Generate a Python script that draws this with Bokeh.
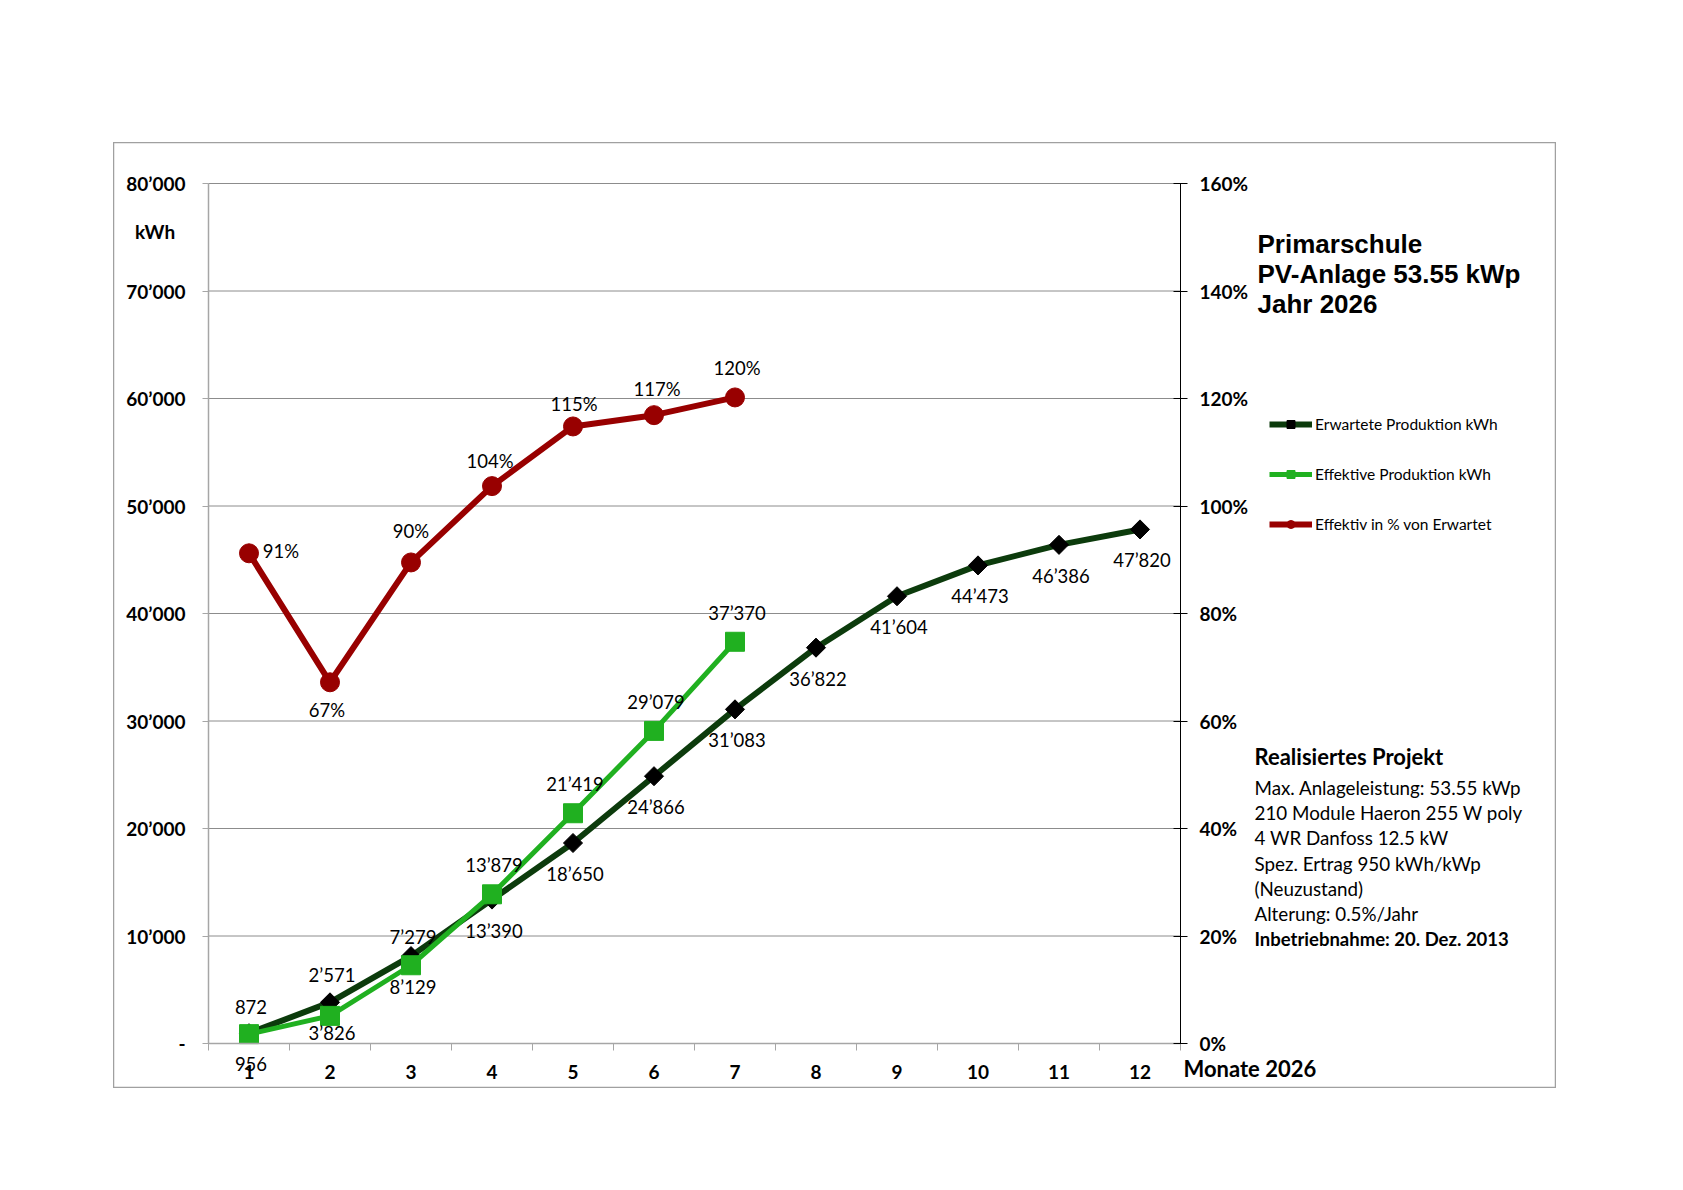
import math
from bokeh.plotting import figure
from bokeh.models import (Range1d, LinearAxis, FixedTicker, ColumnDataSource,
                          LabelSet, Label, Legend, LegendItem)
from bokeh.embed import file_html
from bokeh.resources import INLINE
from bokeh.core.properties import value

# ---------------- data ----------------
months = [1, 2, 3, 4, 5, 6, 7, 8, 9, 10, 11, 12]
month_labels = ["1", "2", "3", "4", "5", "6", "7", "8", "9", "10", "11", "12"]
expected = [956, 3826, 8129, 13390, 18650, 24866, 31083, 36822, 41604, 44473, 46386, 47820]
expected_labels = ["956", "3’826", "8’129", "13’390", "18’650", "24’866", "31’083",
                   "36’822", "41’604", "44’473", "46’386", "47’820"]
eff_months = [1, 2, 3, 4, 5, 6, 7]
effective = [872, 2571, 7279, 13879, 21419, 29079, 37370]
effective_labels = ["872", "2’571", "7’279", "13’879", "21’419", "29’079", "37’370"]
pct = [91.2, 67.2, 89.5, 103.7, 114.8, 116.9, 120.2]
pct_labels = ["91%", "67%", "90%", "104%", "115%", "117%", "120%"]

y_ticks = [0, 10000, 20000, 30000, 40000, 50000, 60000, 70000, 80000]
y_tick_labels = ["-", "10’000", "20’000", "30’000", "40’000", "50’000", "60’000", "70’000", "80’000"]
pct_ticks = [0, 20, 40, 60, 80, 100, 120, 140, 160]
pct_tick_labels = ["0%", "20%", "40%", "60%", "80%", "100%", "120%", "140%", "160%"]

series_names = ["Erwartete Produktion kWh", "Effektive Produktion kWh", "Effektiv in % von Erwartet"]
title_lines = ["Primarschule", "PV-Anlage 53.55 kWp", "Jahr 2026"]
info_title = "Realisiertes Projekt"
info_lines = ["Max. Anlageleistung: 53.55 kWp", "210 Module Haeron 255 W poly",
              "4 WR Danfoss 12.5 kW", "Spez. Ertrag 950 kWh/kWp", "(Neuzustand)",
              "Alterung: 0.5%/Jahr"]
info_last = "Inbetriebnahme: 20. Dez. 2013"
y_unit = "kWh"
x_title = "Monate 2026"

# ---------------- styles ----------------
C_EXP = "#0c3b0c"
C_EFF = "#20b020"
C_PCT = "#980000"
FONT = "Lato"
GRID = "#8c8c8c"
AXG = "#a6a6a6"

# label offsets (screen px)
eff_dy = [27, 41, 28, 29, 29, 29, 29]
pct_dx = [32, -3, 0, -2, 1, 3, 2]
pct_dy = [2, -28, 31, 25, 22, 26, 29]

# ---------------- geometry (page pixels) ----------------
BOX_L, BOX_T, BOX_R, BOX_B = 113, 142, 1556, 1088
PA_L, PA_T, PA_R, PA_B = 208, 183, 1180, 1043
W, H = BOX_R - BOX_L, BOX_B - BOX_T

x_lo, x_hi = months[0] - 0.5, months[-1] + 0.5
y_lo, y_hi = y_ticks[0], y_ticks[-1]
p_lo, p_hi = pct_ticks[0], pct_ticks[-1]

sx = (x_hi - x_lo) / (PA_R - PA_L)
sy = (y_hi - y_lo) / (PA_B - PA_T)
sp = (p_hi - p_lo) / (PA_B - PA_T)

x_range = Range1d(x_lo - (PA_L - BOX_L) * sx, x_hi + (BOX_R - PA_R) * sx)
y_range = Range1d(y_lo - (BOX_B - PA_B) * sy, y_hi + (PA_T - BOX_T) * sy)
p_range = Range1d(p_lo - (BOX_B - PA_B) * sp, p_hi + (PA_T - BOX_T) * sp)

p = figure(width=W, height=H, output_backend="svg", toolbar_location=None,
           x_range=x_range, y_range=y_range, x_axis_location=None, y_axis_location=None,
           min_border=0, min_border_left=0, min_border_right=0, min_border_top=0, min_border_bottom=0)
p.margin = (BOX_T, 0, 0, BOX_L)
p.outline_line_color = "#a0a0a0"
p.outline_line_width = 1.5
p.background_fill_color = "white"
p.border_fill_color = "white"
p.grid.visible = False
p.extra_y_ranges = {"pct": p_range}

# horizontal grid lines across the plot area only
p.segment(x0=[x_lo] * len(y_ticks), x1=[x_hi] * len(y_ticks), y0=y_ticks, y1=y_ticks,
          line_color=GRID, line_width=1, level="underlay")

lab_font = dict(major_label_text_font=FONT, major_label_text_font_style="bold",
                major_label_text_font_size="19px", major_label_text_color="black")

# left axis
ya = LinearAxis(ticker=FixedTicker(ticks=y_ticks), fixed_location=x_lo, bounds=(y_lo, y_hi), **lab_font)
ya.major_label_overrides = {t: l for t, l in zip(y_ticks, y_tick_labels)}
ya.axis_line_color = AXG
ya.axis_line_width = 1.5
ya.major_tick_line_color = AXG
ya.major_tick_out = 6
ya.major_tick_in = 0
ya.minor_tick_line_color = None
ya.major_label_standoff = 17
p.add_layout(ya, "left")

# bottom axis
xa = LinearAxis(ticker=FixedTicker(ticks=months, minor_ticks=[x_lo] + [m + 0.5 for m in months]),
                fixed_location=y_lo, bounds=(x_lo, x_hi), **lab_font)
xa.major_label_overrides = {m: l for m, l in zip(months, month_labels)}
xa.axis_line_color = AXG
xa.axis_line_width = 1.5
xa.major_tick_line_color = None
xa.major_tick_out = 0
xa.major_tick_in = 0
xa.minor_tick_line_color = AXG
xa.minor_tick_out = 7
xa.minor_tick_in = 0
xa.major_label_standoff = 14
p.add_layout(xa, "below")

# right axis
ra = LinearAxis(y_range_name="pct", ticker=FixedTicker(ticks=pct_ticks), fixed_location=x_hi,
                bounds=(p_lo, p_hi), **lab_font)
ra.major_label_overrides = {t: l for t, l in zip(pct_ticks, pct_tick_labels)}
ra.axis_line_color = "black"
ra.axis_line_width = 1
ra.major_tick_line_color = "black"
ra.major_tick_in = 7
ra.major_tick_out = 7
ra.minor_tick_line_color = None
ra.major_label_standoff = 12
p.add_layout(ra, "right")

# ---------------- series ----------------
src_exp = ColumnDataSource(dict(x=months, y=expected, lab=expected_labels))
src_eff = ColumnDataSource(dict(x=eff_months, y=effective, lab=effective_labels, dy=eff_dy))
src_pct = ColumnDataSource(dict(x=eff_months, y=pct, lab=pct_labels, dx=pct_dx, dy=pct_dy))

l_exp = p.line("x", "y", source=src_exp, line_color=C_EXP, line_width=6)
s_exp = p.scatter("x", "y", source=src_exp, marker="square", angle=math.pi / 4, size=13.5,
                  fill_color="black", line_color="black")
l_eff = p.line("x", "y", source=src_eff, line_color=C_EFF, line_width=5)
s_eff = p.scatter("x", "y", source=src_eff, marker="square", size=19,
                  fill_color=C_EFF, line_color=C_EFF)
l_pct = p.line("x", "y", source=src_pct, line_color=C_PCT, line_width=6, y_range_name="pct")
s_pct = p.scatter("x", "y", source=src_pct, marker="circle", size=19,
                  fill_color=C_PCT, line_color=C_PCT, y_range_name="pct")

lab_kw = dict(text_align="center", text_baseline="middle", text_font=value(FONT),
              text_font_size="18.5px", text_color="black")
p.add_layout(LabelSet(x="x", y="y", text="lab", source=src_exp, x_offset=2, y_offset=-31, **lab_kw))
p.add_layout(LabelSet(x="x", y="y", text="lab", source=src_eff, x_offset=2, y_offset="dy", **lab_kw))
p.add_layout(LabelSet(x="x", y="y", text="lab", source=src_pct, x_offset="dx", y_offset="dy",
                      y_range_name="pct", **lab_kw))

# ---------------- legend ----------------
LEG_L, LEG_B = 1269, 534
legend = Legend(items=[LegendItem(label=series_names[0], renderers=[l_exp, s_exp]),
                       LegendItem(label=series_names[1], renderers=[l_eff, s_eff]),
                       LegendItem(label=series_names[2], renderers=[l_pct, s_pct])],
                location=(LEG_L - BOX_L, BOX_B - LEG_B), orientation="vertical",
                glyph_width=43, glyph_height=20, label_height=20, spacing=30,
                padding=0, margin=0, label_standoff=3,
                border_line_color=None, background_fill_alpha=0,
                label_text_font=FONT, label_text_font_size="15.5px", label_text_color="black")
p.add_layout(legend)


# ---------------- free texts (page coords -> frame-relative screen units) ----------------
def add_text(txt, X, Y, font=FONT, size="17px", style="normal", align="left"):
    p.add_layout(Label(x=X - BOX_L, y=BOX_B - Y, x_units="screen", y_units="screen", text=txt,
                       text_font=font, text_font_size=size, text_font_style=style,
                       text_align=align, text_baseline="middle", text_color="black"))


for i, t in enumerate(title_lines):
    add_text(t, 1257, 243 + 30 * i, font="Liberation Sans", size="26px", style="bold")

add_text(y_unit, 154.5, 231, size="19px", style="bold", align="center")
add_text(x_title, 1183, 1068, size="22px", style="bold")

add_text(info_title, 1254, 756, size="22px", style="bold")
for i, t in enumerate(info_lines):
    add_text(t, 1254, 787 + 25.2 * i, size="18.8px")
add_text(info_last, 1254, 938, size="18.5px", style="bold")

open("out.html", "w").write(file_html(p, INLINE))
